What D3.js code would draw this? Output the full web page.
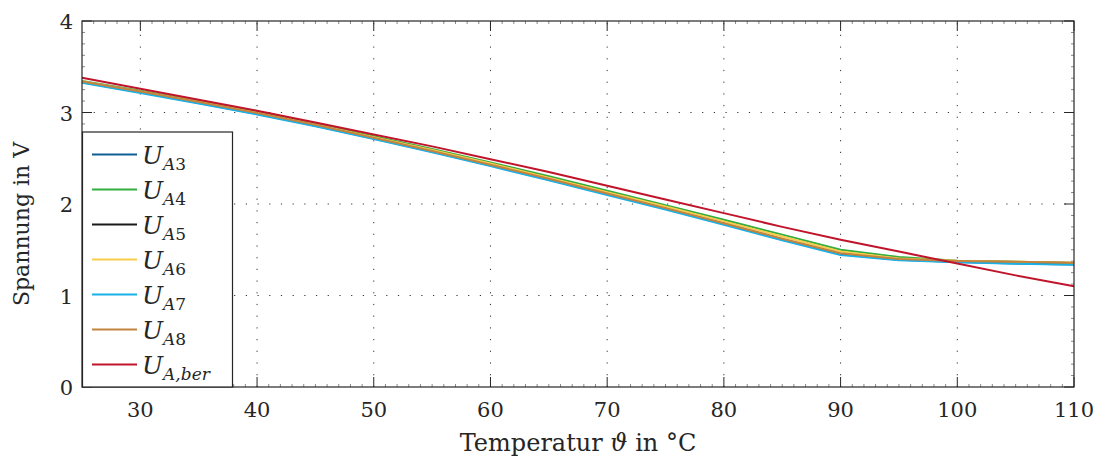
<!DOCTYPE html>
<html>
<head>
<meta charset="utf-8">
<script src="https://cdn.jsdelivr.net/npm/d3@7"></script>
<style>
  body { margin: 0; background: #fff; }
</style>
</head>
<body>
<svg id="chart" width="1106" height="461" style="font-family: 'DejaVu Serif', 'Liberation Serif', serif;"></svg>
<script>
// Temperatur-Stützstellen (°C)
const temps = [25, 30, 35, 40, 45, 50, 55, 60, 65, 70, 75, 80, 85, 90, 95, 100, 105, 110];

// Spannungen in V
const uA3 = [3.330, 3.220, 3.105, 2.985, 2.855, 2.715, 2.570, 2.420, 2.265, 2.105, 1.945, 1.780, 1.610, 1.450, 1.390, 1.365, 1.350, 1.338];
const uA4 = [3.345, 3.237, 3.124, 3.005, 2.878, 2.740, 2.600, 2.455, 2.303, 2.145, 1.988, 1.827, 1.665, 1.500, 1.420, 1.380, 1.368, 1.356];
const uA5 = [3.335, 3.225, 3.110, 2.990, 2.860, 2.720, 2.575, 2.425, 2.270, 2.110, 1.950, 1.785, 1.615, 1.455, 1.395, 1.375, 1.365, 1.355];
const uA6 = [3.340, 3.231, 3.117, 2.998, 2.869, 2.731, 2.590, 2.442, 2.288, 2.130, 1.972, 1.810, 1.645, 1.480, 1.405, 1.379, 1.368, 1.358];
const uA7 = [3.325, 3.214, 3.099, 2.979, 2.849, 2.709, 2.564, 2.414, 2.259, 2.099, 1.939, 1.774, 1.603, 1.443, 1.385, 1.363, 1.348, 1.335];
const uA8 = [3.340, 3.230, 3.115, 2.995, 2.865, 2.725, 2.580, 2.430, 2.275, 2.115, 1.955, 1.790, 1.621, 1.461, 1.399, 1.378, 1.368, 1.358];
const uBer = [3.380, 3.260, 3.140, 3.020, 2.890, 2.760, 2.630, 2.490, 2.350, 2.200, 2.050, 1.900, 1.750, 1.610, 1.480, 1.350, 1.220, 1.100];

const xTicks = [30, 40, 50, 60, 70, 80, 90, 100, 110];
const yTicks = [0, 1, 2, 3, 4];

// Reihenfolge = Legende
const series = [
    { sub: "A3", values: uA3, color: "#0f5f96" },
    { sub: "A4", values: uA4, color: "#35ad3f" },
    { sub: "A5", values: uA5, color: "#1a1a1a" },
    { sub: "A6", values: uA6, color: "#f7cd4b" },
    { sub: "A7", values: uA7, color: "#1ab0e8" },
    { sub: "A8", values: uA8, color: "#c2843f" },
    { sub: "A,ber", values: uBer, color: "#c0142a" }
];

const svg = d3.select("#chart");
const plot = { left: 82, right: 1074, top: 21, bottom: 387 };
const textColor = "#262626";

const x = d3.scaleLinear().domain([25, 110]).range([plot.left, plot.right]);
const y = d3.scaleLinear().domain([0, 4]).range([plot.bottom, plot.top]);

// --- Gitter (gepunktet) ---
const grid = svg.append("g").attr("stroke", "#333").attr("stroke-width", 1)
    .attr("stroke-dasharray", "1.2,10.5");
grid.selectAll("line.gx")
    .data(xTicks.filter(d => d < 110))
    .join("line")
    .attr("x1", d => x(d)).attr("x2", d => x(d))
    .attr("y1", plot.bottom).attr("y2", plot.top);
grid.selectAll("line.gy")
    .data(yTicks.filter(d => d > 0 && d < 4))
    .join("line")
    .attr("y1", d => y(d)).attr("y2", d => y(d))
    .attr("x1", plot.left).attr("x2", plot.right);

// --- Nebenteilstriche ---
const minorX = d3.range(26, 110, 1).filter(d => d % 10 !== 0);
const minorY = d3.range(0.125, 4, 0.125).filter(d => Math.abs(d - Math.round(d)) > 1e-6);
const minor = svg.append("g").attr("stroke", "#888").attr("stroke-width", 1);
minor.selectAll("line.mxb").data(minorX).join("line")
    .attr("x1", d => x(d)).attr("x2", d => x(d))
    .attr("y1", plot.bottom).attr("y2", plot.bottom - 3);
minor.selectAll("line.mxt").data(minorX).join("line")
    .attr("x1", d => x(d)).attr("x2", d => x(d))
    .attr("y1", plot.top).attr("y2", plot.top + 3);
minor.selectAll("line.myl").data(minorY).join("line")
    .attr("y1", d => y(d)).attr("y2", d => y(d))
    .attr("x1", plot.left).attr("x2", plot.left + 3);
minor.selectAll("line.myr").data(minorY).join("line")
    .attr("y1", d => y(d)).attr("y2", d => y(d))
    .attr("x1", plot.right).attr("x2", plot.right - 3);

// --- Hauptteilstriche ---
const major = svg.append("g").attr("stroke", textColor).attr("stroke-width", 1);
major.selectAll("line.tb").data(xTicks).join("line")
    .attr("x1", d => x(d)).attr("x2", d => x(d))
    .attr("y1", plot.bottom).attr("y2", plot.bottom - 10);
major.selectAll("line.tt").data(xTicks).join("line")
    .attr("x1", d => x(d)).attr("x2", d => x(d))
    .attr("y1", plot.top).attr("y2", plot.top + 10);
major.selectAll("line.tl").data(yTicks).join("line")
    .attr("y1", d => y(d)).attr("y2", d => y(d))
    .attr("x1", plot.left).attr("x2", plot.left + 10);
major.selectAll("line.tr").data(yTicks).join("line")
    .attr("y1", d => y(d)).attr("y2", d => y(d))
    .attr("x1", plot.right).attr("x2", plot.right - 10);

// --- Kurven ---
const line = d3.line()
    .x((d, i) => x(temps[i]))
    .y(d => y(d));

svg.append("g")
    .selectAll("path")
    .data(series)
    .join("path")
    .attr("fill", "none")
    .attr("stroke", d => d.color)
    .attr("stroke-width", 2)
    .attr("stroke-linejoin", "round")
    .attr("d", d => line(d.values));

// --- Rahmen ---
svg.append("rect")
    .attr("x", plot.left).attr("y", plot.top)
    .attr("width", plot.right - plot.left).attr("height", plot.bottom - plot.top)
    .attr("fill", "none").attr("stroke", textColor).attr("stroke-width", 1.2);

// --- Achsenbeschriftung ---
svg.append("g").selectAll("text")
    .data(xTicks)
    .join("text")
    .attr("x", d => x(d))
    .attr("y", 417)
    .attr("text-anchor", "middle")
    .attr("fill", textColor)
    .style("font-size", "21px")
    .text(d => d);

svg.append("g").selectAll("text")
    .data(yTicks)
    .join("text")
    .attr("x", 73)
    .attr("y", d => y(d) + 8)
    .attr("text-anchor", "end")
    .attr("fill", textColor)
    .style("font-size", "21px")
    .text(d => d);

svg.append("text")
    .attr("x", 578)
    .attr("y", 451)
    .attr("text-anchor", "middle")
    .attr("fill", textColor)
    .style("font-size", "24px")
    .html('Temperatur <tspan font-style="italic">ϑ</tspan> in °C');

svg.append("text")
    .attr("transform", "translate(29, 224) rotate(-90)")
    .attr("text-anchor", "middle")
    .attr("fill", textColor)
    .style("font-size", "22px")
    .text("Spannung in V");

// --- Legende ---
const legend = svg.append("g");
legend.append("rect")
    .attr("x", plot.left + 0.5).attr("y", 132)
    .attr("width", 150).attr("height", plot.bottom - 132)
    .attr("fill", "#fff").attr("stroke", textColor).attr("stroke-width", 1.2);

const entry = legend.selectAll("g.entry")
    .data(series)
    .join("g")
    .attr("transform", (d, i) => `translate(0, ${154.5 + i * 35})`);

entry.append("line")
    .attr("x1", 92).attr("x2", 137)
    .attr("stroke", d => d.color)
    .attr("stroke-width", 2);

const label = entry.append("text")
    .attr("x", 142)
    .attr("y", 9)
    .attr("fill", textColor)
    .style("font-size", "25px");
label.append("tspan").attr("font-style", "italic").text("U");
label.each(function (d) {
    const t = d3.select(this);
    const parts = d.sub.match(/[A-Za-z,]+|[0-9]+/g);
    parts.forEach((p, k) => {
        const ts = t.append("tspan")
            .style("font-size", "17px")
            .attr("font-style", /[0-9]/.test(p) ? "normal" : "italic")
            .text(p);
        if (k === 0) ts.attr("dy", 6);
    });
});
</script>
</body>
</html>
